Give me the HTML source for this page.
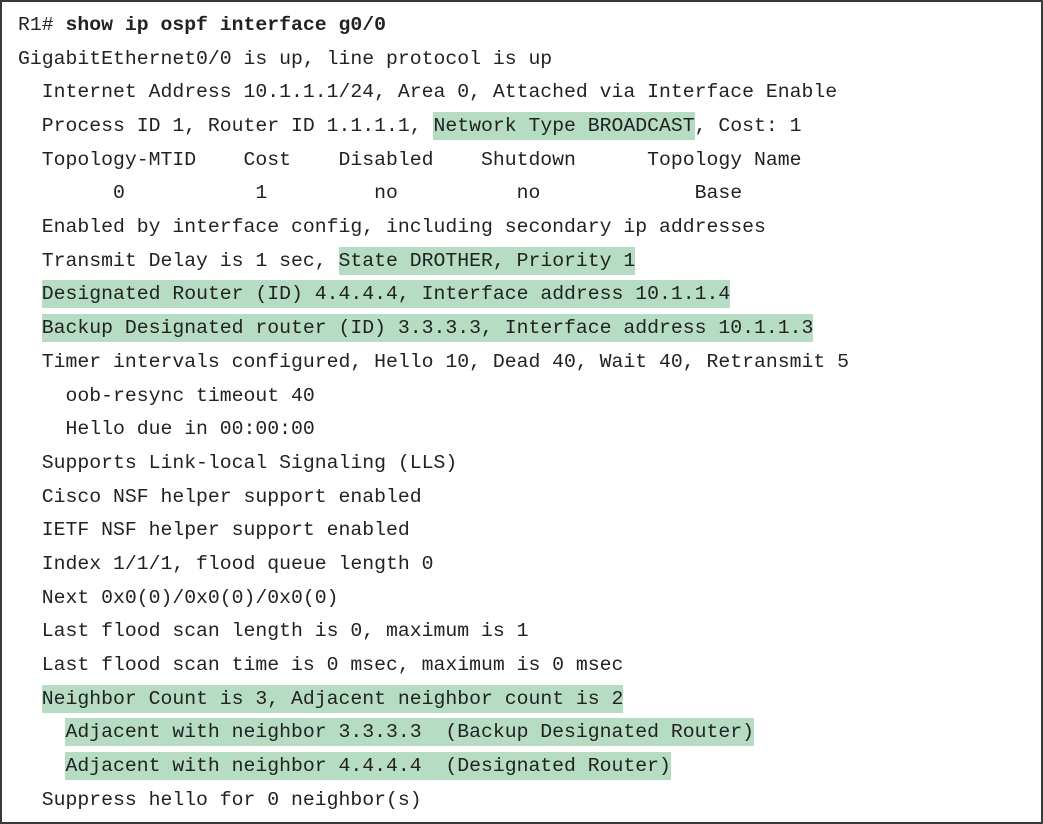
<!DOCTYPE html>
<html><head><meta charset="utf-8"><style>
body{margin:0;background:#fff;}
#f{position:relative;width:1043px;height:824px;overflow:hidden;}
#b{position:absolute;left:0;top:0;width:1039px;height:820px;border:2px solid #3a3a3a;}
.l{position:absolute;left:18px;white-space:pre;font-family:"Liberation Mono",monospace;font-size:19.8px;line-height:24px;color:#222;}
.h{background:#b6dcc4;padding:3px 0;}
b{font-weight:bold;}
</style></head><body><div id="f"><div id="b"></div>
<div class="l" style="top:13px">R1# <b>show ip ospf interface g0/0</b></div>
<div class="l" style="top:47px">GigabitEthernet0/0 is up, line protocol is up</div>
<div class="l" style="top:80px">  Internet Address 10.1.1.1/24, Area 0, Attached via Interface Enable</div>
<div class="l" style="top:114px">  Process ID 1, Router ID 1.1.1.1, <span class="h">Network Type BROADCAST</span>, Cost: 1</div>
<div class="l" style="top:148px">  Topology-MTID    Cost    Disabled    Shutdown      Topology Name</div>
<div class="l" style="top:181px">        0           1         no          no             Base</div>
<div class="l" style="top:215px">  Enabled by interface config, including secondary ip addresses</div>
<div class="l" style="top:249px">  Transmit Delay is 1 sec, <span class="h">State DROTHER, Priority 1</span></div>
<div class="l" style="top:282px">  <span class="h">Designated Router (ID) 4.4.4.4, Interface address 10.1.1.4</span></div>
<div class="l" style="top:316px">  <span class="h">Backup Designated router (ID) 3.3.3.3, Interface address 10.1.1.3</span></div>
<div class="l" style="top:350px">  Timer intervals configured, Hello 10, Dead 40, Wait 40, Retransmit 5</div>
<div class="l" style="top:384px">    oob-resync timeout 40</div>
<div class="l" style="top:417px">    Hello due in 00:00:00</div>
<div class="l" style="top:451px">  Supports Link-local Signaling (LLS)</div>
<div class="l" style="top:485px">  Cisco NSF helper support enabled</div>
<div class="l" style="top:518px">  IETF NSF helper support enabled</div>
<div class="l" style="top:552px">  Index 1/1/1, flood queue length 0</div>
<div class="l" style="top:586px">  Next 0x0(0)/0x0(0)/0x0(0)</div>
<div class="l" style="top:619px">  Last flood scan length is 0, maximum is 1</div>
<div class="l" style="top:653px">  Last flood scan time is 0 msec, maximum is 0 msec</div>
<div class="l" style="top:687px">  <span class="h">Neighbor Count is 3, Adjacent neighbor count is 2</span></div>
<div class="l" style="top:720px">    <span class="h">Adjacent with neighbor 3.3.3.3  (Backup Designated Router)</span></div>
<div class="l" style="top:754px">    <span class="h">Adjacent with neighbor 4.4.4.4  (Designated Router)</span></div>
<div class="l" style="top:788px">  Suppress hello for 0 neighbor(s)</div>
</div></body></html>
